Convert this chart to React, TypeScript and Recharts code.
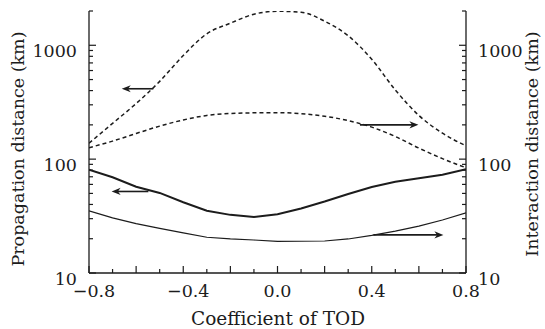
import { LineChart, Line, XAxis, YAxis, ReferenceLine } from "recharts";

// coefficient of TOD (x)
const coef = [-0.8, -0.7, -0.6, -0.5, -0.4, -0.3, -0.2, -0.1, 0, 0.1, 0.2, 0.3, 0.4, 0.5, 0.6, 0.7, 0.8];

// distances in km
const propagationDashed = [138, 206, 308, 482, 813, 1262, 1563, 1875, 1990, 1953, 1627, 1212, 753, 405, 242, 169, 131];
const interactionDashed = [126, 144, 168, 195, 221, 242, 252, 255, 256, 251, 238, 218, 191, 158, 125, 101, 84];
const propagationSolid = [80.8, 69.4, 57.2, 50.5, 41.8, 35.2, 32.4, 31.1, 32.8, 36.9, 42.4, 49.4, 57.0, 63.4, 67.9, 73.0, 81.6];
const interactionSolid = [35.2, 30.5, 27.1, 24.7, 22.5, 20.6, 19.9, 19.5, 18.95, 19.0, 19.1, 19.9, 21.4, 23.3, 25.8, 29.2, 33.8];

const yTicks = [10, 20, 30, 40, 50, 60, 70, 80, 90, 100, 200, 300, 400, 500, 600, 700, 800, 900, 1000, 2000];
const yLabels = [10, 100, 1000];
const xLabels = [-0.8, -0.4, 0, 0.4, 0.8];

// arrows telling which axis a curve belongs to
const arrowFrom = [-0.527, -0.548, 0.35, 0.407];
const arrowTo = [-0.661, -0.704, 0.598, 0.704];
const arrowLevel = [415, 52, 200, 21.6];
const arrowAxis = ["left", "left", "right", "right"];

const data = coef.map((c, i) => ({
  c,
  propDash: propagationDashed[i],
  interDash: interactionDashed[i],
  propSolid: propagationSolid[i],
  interSolid: interactionSolid[i],
}));

const INK = "#1c1c1c";
const FONT = "'DejaVu Serif', serif";
const FS = 17.5;

const fmtX = (v: number) => {
  if (Math.abs(v) < 1e-9) return "0.0";
  const s = Math.abs(v).toFixed(1);
  return v < 0 ? "\u2212" + s : s;
};

const XTick = (props: any) => {
  const { x, y, payload } = props;
  const v = payload.value;
  const major = Math.round(v * 10) % 2 === 0;
  const labeled = xLabels.some((l) => Math.abs(l - v) < 1e-6);
  return (
    <g>
      <line x1={x} x2={x} y1={y} y2={y - (major ? 7 : 4)} stroke={INK} strokeWidth={1.2} />
      {labeled && (
        <text x={x + (v < -1e-9 ? 5 : 0)} y={y + 24} textAnchor="middle" fill={INK} fontFamily={FONT} fontSize={FS}>
          {fmtX(v)}
        </text>
      )}
    </g>
  );
};

const makeYTick = (side: "left" | "right") => (props: any) => {
  const { x, y, payload } = props;
  const v = payload.value;
  const major = yLabels.includes(v);
  const len = major ? 7 : 4;
  const x0 = side === "left" ? x + 12 : x - 12;
  const x1 = side === "left" ? x0 + len : x0 - len;
  return (
    <g>
      <line x1={x0} x2={x1} y1={y} y2={y} stroke={INK} strokeWidth={1.2} />
      {major && (
        <text x={x} y={y + 11.5} textAnchor={side === "left" ? "end" : "start"} fill={INK} fontFamily={FONT} fontSize={FS}>
          {v}
        </text>
      )}
    </g>
  );
};

const Arrow = (props: any) => {
  const { x1, y1, x2, y2 } = props;
  const dir = x2 > x1 ? 1 : -1;
  const head = 9;
  return (
    <g>
      <line x1={x1} y1={y1} x2={x2 - dir * head * 0.7} y2={y2} stroke={INK} strokeWidth={1.6} />
      <polygon points={`${x2},${y2} ${x2 - dir * head},${y2 - 3.6} ${x2 - dir * head * 0.7},${y2} ${x2 - dir * head},${y2 + 3.6}`} fill={INK} />
    </g>
  );
};

export default function App() {
  return (
    <div style={{ position: "absolute", left: 0, top: 0, background: "#fff" }}>
      <LineChart width={545} height={329} data={data} margin={{ top: 11, right: 0, left: 0, bottom: 0 }}>
        <XAxis
          dataKey="c"
          type="number"
          domain={[-0.8, 0.8]}
          ticks={coef}
          allowDataOverflow
          height={56}
          tickSize={0}
          tickMargin={0}
          tickLine={false}
          axisLine={{ stroke: INK, strokeWidth: 1.3 }}
          tick={XTick}
          interval={0}
          label={() => (
            <text x={278} y={325} textAnchor="middle" fill={INK} fontFamily={FONT} fontSize={18.5}>
              Coefficient of TOD
            </text>
          )}
        />
        <YAxis
          yAxisId="left"
          scale="log"
          domain={[10, 2000]}
          allowDataOverflow
          ticks={yTicks}
          interval={0}
          width={89}
          tickSize={0}
          tickMargin={12}
          tickLine={false}
          axisLine={{ stroke: INK, strokeWidth: 1.3 }}
          tick={makeYTick("left")}
          label={() => (
            <text transform="translate(24,149) rotate(-90)" textAnchor="middle" fill={INK} fontFamily={FONT} fontSize={FS}>
              Propagation distance (km)
            </text>
          )}
        />
        <YAxis
          yAxisId="right"
          orientation="right"
          scale="log"
          domain={[10, 2000]}
          allowDataOverflow
          ticks={yTicks}
          interval={0}
          width={79}
          tickSize={0}
          tickMargin={12}
          tickLine={false}
          axisLine={{ stroke: INK, strokeWidth: 1.3 }}
          tick={makeYTick("right")}
          label={() => (
            <text transform="translate(537.5,144) rotate(-90)" textAnchor="middle" fill={INK} fontFamily={FONT} fontSize={FS}>
              Interaction distance (km)
            </text>
          )}
        />
        <Line yAxisId="left" type="monotone" dataKey="propDash" stroke={INK} strokeWidth={1.5} strokeDasharray="4 3" dot={false} isAnimationActive={false} />
        <Line yAxisId="right" type="monotone" dataKey="interDash" stroke={INK} strokeWidth={1.5} strokeDasharray="4 3" dot={false} isAnimationActive={false} />
        <Line yAxisId="left" type="linear" dataKey="propSolid" stroke={INK} strokeWidth={2} dot={false} isAnimationActive={false} />
        <Line yAxisId="right" type="linear" dataKey="interSolid" stroke={INK} strokeWidth={1.2} dot={false} isAnimationActive={false} />
        {arrowFrom.map((f, i) => (
          <ReferenceLine
            key={i}
            yAxisId={arrowAxis[i]}
            segment={[
              { x: f, y: arrowLevel[i] },
              { x: arrowTo[i], y: arrowLevel[i] },
            ]}
            shape={Arrow}
          />
        ))}
      </LineChart>
    </div>
  );
}
